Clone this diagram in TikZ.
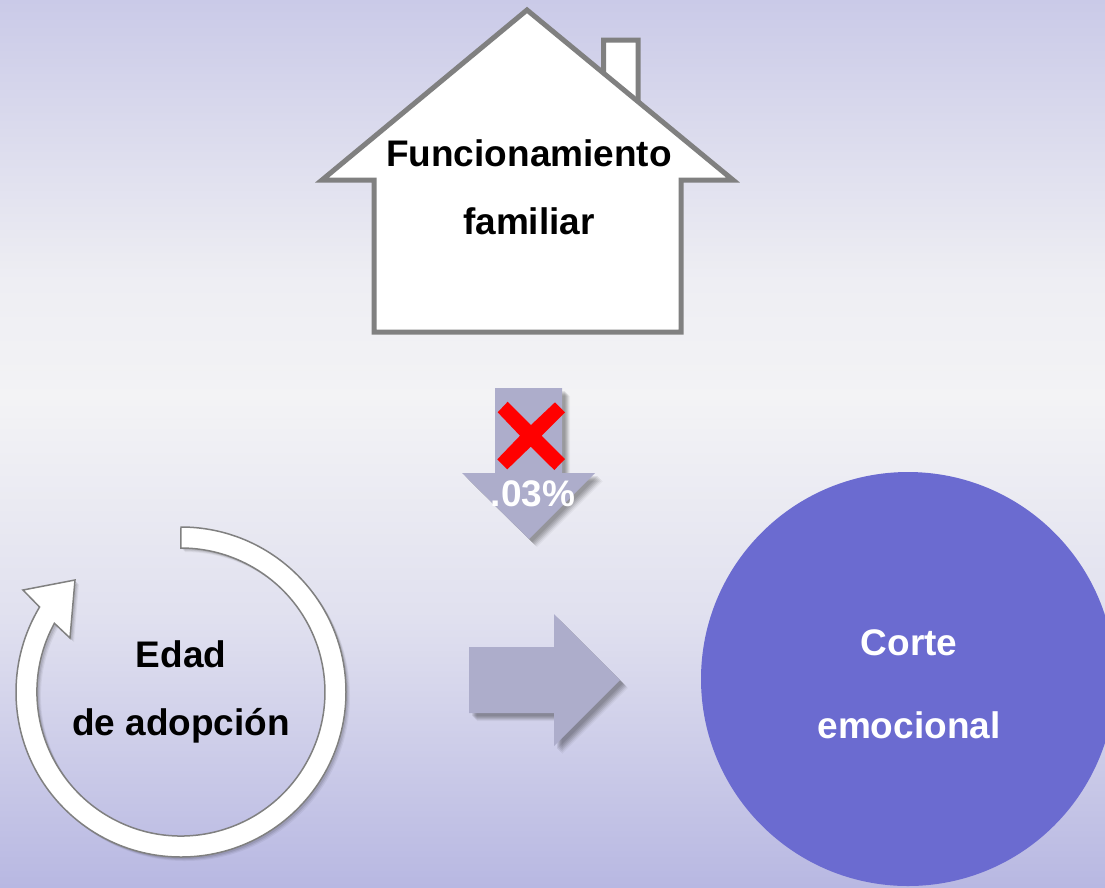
\documentclass[tikz,border=0pt]{standalone}
\usepackage{fontspec}
\setmainfont{Liberation Sans}
\definecolor{bgtop}{RGB}{202,202,232}
\definecolor{bgup}{RGB}{238,238,243}
\definecolor{bgmid}{RGB}{243,243,245}
\definecolor{bglow}{RGB}{224,224,239}
\definecolor{bgbot}{RGB}{184,184,226}
\definecolor{arrowfill}{RGB}{173,173,203}
\definecolor{circlefill}{RGB}{107,107,208}
\definecolor{houseline}{RGB}{128,128,128}

\begin{document}
\begin{tikzpicture}[
            x=1pt,y=-1pt,
            label node/.style={anchor=base,font=\fontsize{37}{40}\bfseries\selectfont,inner sep=0pt},
            soft shadow/.style={
                preaction={fill=black,opacity=.04,transform canvas={shift={(8pt,-8pt)}}},
                preaction={fill=black,opacity=.06,transform canvas={shift={(7pt,-7pt)}}},
                preaction={fill=black,opacity=.08,transform canvas={shift={(6pt,-6pt)}}},
                preaction={fill=black,opacity=.08,transform canvas={shift={(5pt,-5pt)}}},
                preaction={fill=black,opacity=.08,transform canvas={shift={(4pt,-4pt)}}},
                preaction={fill=black,opacity=.08,transform canvas={shift={(3pt,-3pt)}}},
            },
            ring shadow/.style={
                preaction={fill=black,opacity=.05,transform canvas={shift={(4pt,-4pt)}}},
                preaction={fill=black,opacity=.07,transform canvas={shift={(3pt,-3pt)}}},
                preaction={fill=black,opacity=.09,transform canvas={shift={(2pt,-2pt)}}},
            },
            house line/.style={draw=houseline,line width=5pt,fill=white,line join=miter},
            ]
            
            \useasboundingbox (0,0) rectangle (1105,887);
            \fill[top color=bgtop,bottom color=bgup] (0,0) rectangle (1105,280);
            \fill[top color=bgup,bottom color=bgmid] (0,280) rectangle (1105,400);
            \fill[top color=bgmid,bottom color=bglow] (0,400) rectangle (1105,620);
            \fill[top color=bglow,bottom color=bgbot] (0,620) rectangle (1105,887);
            
            \draw[house line] (603.5,75) -- (603.5,40) -- (638,40) -- (638,104) -- cycle;
            \draw[house line,miter limit=20] (527,10) -- (733,180) -- (681,180) -- (681,332) -- (374,332) -- (374,180) -- (322,180) -- cycle;
            
            \fill[arrowfill,soft shadow] (495,388) -- (562,388) -- (562,473) -- (595,473) -- (529,539) -- (462,473) -- (495,473) -- cycle;
            \fill[red] (507.7,401.7) -- (531,425) -- (555,402.3) -- (565,412.3) -- (541.7,435.7) -- (565,459) -- (554.3,470) -- (530.7,446.7) -- (507.3,469.3) -- (497.3,459.3) -- (520,435.7) -- (497.7,412.3) -- cycle;
            
            \fill[arrowfill,soft shadow] (469,647) -- (554,647) -- (554,614) -- (620,680) -- (554,746) -- (554,713) -- (469,713) -- cycle;
            
            \draw[draw=houseline,line width=1.5pt,fill=white,ring shadow,line join=miter] (181,527) arc[start angle=90,end angle=-211,radius=165pt] -- (23,590) -- (75,580) -- (70,638) -- (54.4,623.3) arc[start angle=-208.5,end angle=90,radius=144pt] -- cycle;
            
            \fill[circlefill] (908,679) circle[radius=207pt];
            
            \node[label node] (funcionamiento) at (529,166) {Funcionamiento};
            \node[label node] (familiar) at (529,234) {familiar};
            \node[label node,text=white] (porcentaje) at (533,506) {.03\%};
            \node[label node] (edad) at (181,667) {Edad};
            \node[label node] (adopcion) at (181,735) {de adopción};
            \node[label node,text=white] (corte) at (909,655) {Corte};
            \node[label node,text=white] (emocional) at (909,738) {emocional};
        \end{tikzpicture}
\end{document}
